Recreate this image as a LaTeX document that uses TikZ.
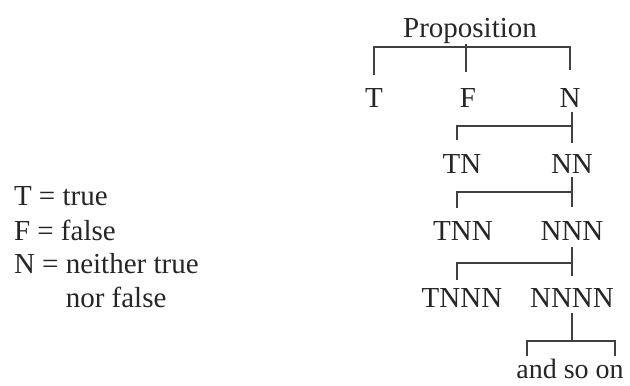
\documentclass[tikz,border=0pt]{standalone}
\usepackage{fontspec}
\setmainfont{Liberation Serif}
\begin{document}
\begin{tikzpicture}[x=1pt,y=-1pt,
  lbl/.style={inner sep=0pt,outer sep=0pt,text=black!85,font=\fontsize{29}{34}\selectfont},
  ln/.style={draw=black!75,line width=1.8pt}]
\useasboundingbox (0,0) rectangle (630,386);
% tree labels
\node[lbl,anchor=base] (p) at (470,37) {Proposition};
\node[lbl,anchor=base] (T) at (374,107) {T};
\node[lbl,anchor=base] (F) at (468,107) {F};
\node[lbl,anchor=base] (N) at (570,107) {N};
\node[lbl,anchor=base] (TN) at (462,173) {TN};
\node[lbl,anchor=base] (NN) at (572,173) {NN};
\node[lbl,anchor=base] (TNN) at (463,240) {TNN};
\node[lbl,anchor=base] (NNN) at (572,240) {NNN};
\node[lbl,anchor=base] (TNNN) at (462,307) {TNNN};
\node[lbl,anchor=base] (NNNN) at (572,307) {NNNN};
\node[lbl,anchor=base,font=\fontsize{28}{33}\selectfont] (so) at (570,378) {and so on};
% legend
\node[lbl,anchor=base west] (l1) at (14,205) {T = true};
\node[lbl,anchor=base west] (l2) at (14,240) {F = false};
\node[lbl,anchor=base west] (l3) at (14,273) {N = neither true};
\node[lbl,anchor=base west] (l4) at (14,307) {\phantom{N = }nor false};
% junctions
\coordinate (b1) at (466,47);
\coordinate (b2) at (572,126);
\coordinate (b3) at (572,192);
\coordinate (b4) at (572,263);
\coordinate (b5) at (572,341);
% bracket 1
\draw[ln] ([yshift=13pt]T.north) |- (b1) -| ([yshift=18pt]N.north);
\draw[ln] ([xshift=-4pt,yshift=-7pt]p.base) -- ([xshift=-2pt,yshift=16pt]F.north);
% bracket 2
\draw[ln] ([xshift=2pt,yshift=-5pt]N.south) -- ([yshift=11pt]NN.north);
\draw[ln] ([xshift=-5pt,yshift=14pt]TN.north) |- (b2);
% bracket 3
\draw[ln] ([yshift=-4pt]NN.south) -- ([yshift=14pt]NNN.north);
\draw[ln] ([xshift=-6pt,yshift=13pt]TNN.north) |- (b3);
% bracket 4
\draw[ln] ([yshift=-7pt]NNN.south) -- ([yshift=12pt]NNNN.north);
\draw[ln] ([xshift=-5pt,yshift=8pt]TNNN.north) |- (b4);
% bracket 5
\draw[ln] ([yshift=-6pt]NNNN.south) -- (b5);
\draw[ln] ([xshift=-43pt,yshift=3pt]so.north) |- (b5) -| ([xshift=45pt,yshift=3pt]so.north);
\end{tikzpicture}
\end{document}
